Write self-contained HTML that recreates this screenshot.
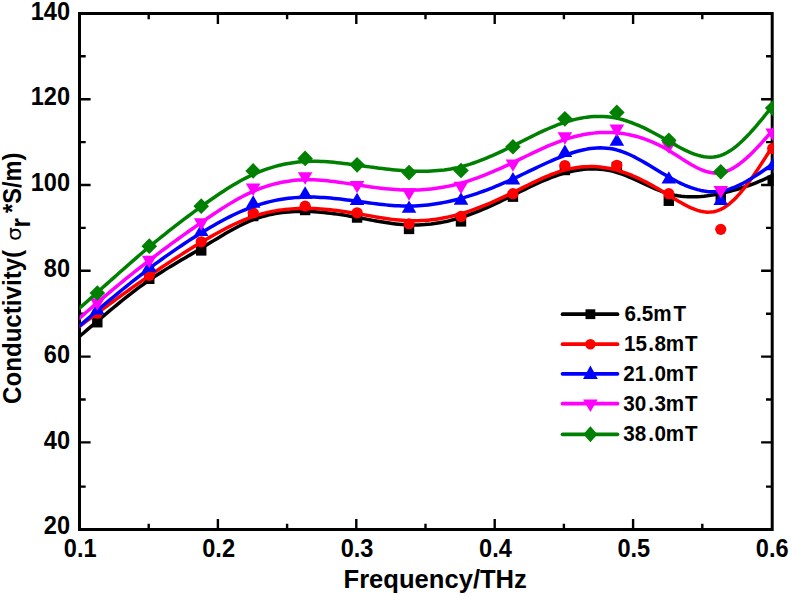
<!DOCTYPE html>
<html><head><meta charset="utf-8"><title>Conductivity vs Frequency</title>
<style>html,body{margin:0;padding:0;background:#fff;overflow:hidden}svg{display:block}</style></head>
<body>
<svg width="792" height="596" viewBox="0 0 792 596" style="display:block" font-family="'Liberation Sans', sans-serif" font-weight="bold">
<rect width="792" height="596" fill="#fff"/>
<defs><clipPath id="cp"><rect x="79.5" y="13.5" width="694.2" height="516.0"/></clipPath></defs>
<rect x="79.5" y="13.5" width="692.7" height="516.0" fill="none" stroke="#000" stroke-width="3.0"/>
<path d="M148.70,529.5 v-5.8 M148.70,13.5 v5.8 M217.90,529.5 v-10.4 M217.90,13.5 v10.4 M287.10,529.5 v-5.8 M287.10,13.5 v5.8 M356.30,529.5 v-10.4 M356.30,13.5 v10.4 M425.50,529.5 v-5.8 M425.50,13.5 v5.8 M494.70,529.5 v-10.4 M494.70,13.5 v10.4 M563.90,529.5 v-5.8 M563.90,13.5 v5.8 M633.10,529.5 v-10.4 M633.10,13.5 v10.4 M702.30,529.5 v-5.8 M702.30,13.5 v5.8 M79.5,486.60 h6.2 M772.2,486.60 h-6.2 M79.5,442.40 h11.1 M772.2,442.40 h-11.1 M79.5,399.50 h6.2 M772.2,399.50 h-6.2 M79.5,356.60 h11.1 M772.2,356.60 h-11.1 M79.5,313.70 h6.2 M772.2,313.70 h-6.2 M79.5,270.80 h11.1 M772.2,270.80 h-11.1 M79.5,227.90 h6.2 M772.2,227.90 h-6.2 M79.5,185.00 h11.1 M772.2,185.00 h-11.1 M79.5,142.10 h6.2 M772.2,142.10 h-6.2 M79.5,99.20 h11.1 M772.2,99.20 h-11.1 M79.5,56.30 h6.2 M772.2,56.30 h-6.2" stroke="#000" stroke-width="2.4" fill="none"/>
<g clip-path="url(#cp)">
<path d="M67.59,346.67 L70.84,343.88 L74.09,341.08 L77.34,338.29 L80.58,335.50 L83.83,332.72 L87.08,329.94 L90.32,327.16 L93.57,324.39 L96.82,321.63 L100.06,318.87 L103.31,316.12 L106.56,313.39 L109.81,310.67 L113.05,307.97 L116.30,305.29 L119.55,302.63 L122.79,300.01 L126.04,297.42 L129.29,294.86 L132.53,292.34 L135.78,289.87 L139.03,287.44 L142.28,285.06 L145.52,282.73 L148.77,280.46 L152.02,278.24 L155.26,276.08 L158.51,273.97 L161.76,271.90 L165.01,269.87 L168.25,267.87 L171.50,265.90 L174.75,263.95 L177.99,262.02 L181.24,260.10 L184.49,258.19 L187.73,256.28 L190.98,254.37 L194.23,252.45 L197.48,250.52 L200.72,248.57 L203.97,246.59 L207.22,244.61 L210.46,242.61 L213.71,240.62 L216.96,238.64 L220.20,236.67 L223.45,234.74 L226.70,232.84 L229.95,230.98 L233.19,229.17 L236.44,227.43 L239.69,225.75 L242.93,224.15 L246.18,222.64 L249.43,221.22 L252.67,219.90 L255.92,218.69 L259.17,217.59 L262.42,216.59 L265.66,215.70 L268.91,214.89 L272.16,214.19 L275.40,213.57 L278.65,213.03 L281.90,212.58 L285.15,212.21 L288.39,211.91 L291.64,211.68 L294.89,211.52 L298.13,211.42 L301.38,211.39 L304.63,211.41 L307.87,211.48 L311.12,211.60 L314.37,211.78 L317.62,211.99 L320.86,212.25 L324.11,212.56 L327.36,212.90 L330.60,213.28 L333.85,213.69 L337.10,214.13 L340.34,214.60 L343.59,215.10 L346.84,215.62 L350.09,216.17 L353.33,216.74 L356.58,217.32 L359.83,217.92 L363.07,218.53 L366.32,219.14 L369.57,219.75 L372.82,220.35 L376.06,220.94 L379.31,221.51 L382.56,222.06 L385.80,222.58 L389.05,223.06 L392.30,223.50 L395.54,223.90 L398.79,224.25 L402.04,224.53 L405.29,224.76 L408.53,224.92 L411.78,225.00 L415.03,225.01 L418.27,224.95 L421.52,224.81 L424.77,224.61 L428.01,224.33 L431.26,223.98 L434.51,223.55 L437.76,223.06 L441.00,222.50 L444.25,221.87 L447.50,221.17 L450.74,220.40 L453.99,219.56 L457.24,218.65 L460.49,217.68 L463.73,216.64 L466.98,215.53 L470.23,214.37 L473.47,213.15 L476.72,211.88 L479.97,210.56 L483.21,209.19 L486.46,207.78 L489.71,206.34 L492.96,204.86 L496.20,203.35 L499.45,201.82 L502.70,200.26 L505.94,198.69 L509.19,197.10 L512.44,195.50 L515.68,193.89 L518.93,192.28 L522.18,190.67 L525.43,189.08 L528.67,187.50 L531.92,185.95 L535.17,184.43 L538.41,182.94 L541.66,181.50 L544.91,180.10 L548.15,178.76 L551.40,177.48 L554.65,176.27 L557.90,175.13 L561.14,174.07 L564.39,173.10 L567.64,172.22 L570.88,171.44 L574.13,170.75 L577.38,170.17 L580.63,169.69 L583.87,169.32 L587.12,169.06 L590.37,168.91 L593.61,168.89 L596.86,168.98 L600.11,169.20 L603.35,169.55 L606.60,170.03 L609.85,170.64 L613.10,171.39 L616.34,172.28 L619.59,173.31 L622.84,174.46 L626.08,175.72 L629.33,177.08 L632.58,178.50 L635.82,179.97 L639.07,181.48 L642.32,183.01 L645.57,184.53 L648.81,186.03 L652.06,187.49 L655.31,188.90 L658.55,190.23 L661.80,191.47 L665.05,192.60 L668.30,193.60 L671.54,194.45 L674.79,195.16 L678.04,195.74 L681.28,196.19 L684.53,196.51 L687.78,196.71 L691.02,196.81 L694.27,196.79 L697.52,196.68 L700.77,196.47 L704.01,196.17 L707.26,195.79 L710.51,195.33 L713.75,194.81 L717.00,194.21 L720.25,193.56 L723.49,192.86 L726.74,192.10 L729.99,191.29 L733.24,190.42 L736.48,189.50 L739.73,188.52 L742.98,187.49 L746.22,186.40 L749.47,185.25 L752.72,184.05 L755.96,182.79 L759.21,181.47 L762.46,180.10 L765.71,178.66 L768.95,177.17 L772.20,175.61 L775.45,173.99 L778.69,172.32 L781.94,170.60 L785.19,168.82" fill="none" stroke="#000000" stroke-width="3.5" stroke-linejoin="round"/>
<rect x="92.12" y="317.04" width="10.4" height="10.4" fill="#000000"/>
<rect x="144.07" y="273.61" width="10.4" height="10.4" fill="#000000"/>
<rect x="196.02" y="245.23" width="10.4" height="10.4" fill="#000000"/>
<rect x="247.97" y="210.83" width="10.4" height="10.4" fill="#000000"/>
<rect x="299.93" y="204.81" width="10.4" height="10.4" fill="#000000"/>
<rect x="351.88" y="212.33" width="10.4" height="10.4" fill="#000000"/>
<rect x="403.83" y="223.73" width="10.4" height="10.4" fill="#000000"/>
<rect x="455.79" y="216.20" width="10.4" height="10.4" fill="#000000"/>
<rect x="507.74" y="191.48" width="10.4" height="10.4" fill="#000000"/>
<rect x="559.69" y="164.82" width="10.4" height="10.4" fill="#000000"/>
<rect x="611.64" y="161.81" width="10.4" height="10.4" fill="#000000"/>
<rect x="663.60" y="195.56" width="10.4" height="10.4" fill="#000000"/>
<rect x="715.55" y="191.48" width="10.4" height="10.4" fill="#000000"/>
<rect x="767.50" y="175.57" width="10.4" height="10.4" fill="#000000"/>
<path d="M67.59,335.25 L70.84,332.81 L74.09,330.38 L77.34,327.94 L80.58,325.52 L83.83,323.09 L87.08,320.67 L90.32,318.25 L93.57,315.84 L96.82,313.43 L100.06,311.03 L103.31,308.63 L106.56,306.24 L109.81,303.85 L113.05,301.48 L116.30,299.11 L119.55,296.75 L122.79,294.41 L126.04,292.07 L129.29,289.75 L132.53,287.43 L135.78,285.14 L139.03,282.85 L142.28,280.58 L145.52,278.33 L148.77,276.09 L152.02,273.86 L155.26,271.66 L158.51,269.47 L161.76,267.30 L165.01,265.15 L168.25,263.01 L171.50,260.89 L174.75,258.79 L177.99,256.70 L181.24,254.64 L184.49,252.59 L187.73,250.56 L190.98,248.55 L194.23,246.55 L197.48,244.58 L200.72,242.62 L203.97,240.68 L207.22,238.76 L210.46,236.88 L213.71,235.02 L216.96,233.19 L220.20,231.41 L223.45,229.67 L226.70,227.98 L229.95,226.34 L233.19,224.76 L236.44,223.23 L239.69,221.78 L242.93,220.39 L246.18,219.07 L249.43,217.83 L252.67,216.68 L255.92,215.60 L259.17,214.61 L262.42,213.71 L265.66,212.88 L268.91,212.13 L272.16,211.45 L275.40,210.85 L278.65,210.32 L281.90,209.86 L285.15,209.46 L288.39,209.14 L291.64,208.87 L294.89,208.66 L298.13,208.52 L301.38,208.43 L304.63,208.40 L307.87,208.42 L311.12,208.49 L314.37,208.61 L317.62,208.77 L320.86,208.98 L324.11,209.23 L327.36,209.52 L330.60,209.84 L333.85,210.21 L337.10,210.60 L340.34,211.02 L343.59,211.48 L346.84,211.95 L350.09,212.46 L353.33,212.98 L356.58,213.52 L359.83,214.08 L363.07,214.65 L366.32,215.23 L369.57,215.80 L372.82,216.37 L376.06,216.93 L379.31,217.47 L382.56,218.00 L385.80,218.49 L389.05,218.95 L392.30,219.38 L395.54,219.75 L398.79,220.09 L402.04,220.36 L405.29,220.58 L408.53,220.72 L411.78,220.80 L415.03,220.81 L418.27,220.75 L421.52,220.62 L424.77,220.42 L428.01,220.15 L431.26,219.81 L434.51,219.41 L437.76,218.94 L441.00,218.41 L444.25,217.81 L447.50,217.15 L450.74,216.43 L453.99,215.64 L457.24,214.79 L460.49,213.88 L463.73,212.91 L466.98,211.88 L470.23,210.80 L473.47,209.66 L476.72,208.47 L479.97,207.24 L483.21,205.96 L486.46,204.63 L489.71,203.27 L492.96,201.86 L496.20,200.42 L499.45,198.95 L502.70,197.45 L505.94,195.91 L509.19,194.36 L512.44,192.77 L515.68,191.17 L518.93,189.56 L522.18,187.94 L525.43,186.32 L528.67,184.72 L531.92,183.14 L535.17,181.58 L538.41,180.06 L541.66,178.58 L544.91,177.16 L548.15,175.79 L551.40,174.50 L554.65,173.28 L557.90,172.14 L561.14,171.10 L564.39,170.16 L567.64,169.33 L570.88,168.61 L574.13,167.99 L577.38,167.49 L580.63,167.10 L583.87,166.81 L587.12,166.64 L590.37,166.58 L593.61,166.62 L596.86,166.78 L600.11,167.05 L603.35,167.43 L606.60,167.92 L609.85,168.52 L613.10,169.23 L616.34,170.06 L619.59,170.99 L622.84,172.03 L626.08,173.18 L629.33,174.41 L632.58,175.74 L635.82,177.16 L639.07,178.66 L642.32,180.23 L645.57,181.87 L648.81,183.58 L652.06,185.34 L655.31,187.16 L658.55,189.03 L661.80,190.95 L665.05,192.90 L668.30,194.89 L671.54,196.90 L674.79,198.91 L678.04,200.89 L681.28,202.80 L684.53,204.62 L687.78,206.31 L691.02,207.85 L694.27,209.20 L697.52,210.34 L700.77,211.23 L704.01,211.84 L707.26,212.14 L710.51,212.11 L713.75,211.70 L717.00,210.89 L720.25,209.65 L723.49,207.96 L726.74,205.84 L729.99,203.31 L733.24,200.41 L736.48,197.16 L739.73,193.59 L742.98,189.73 L746.22,185.62 L749.47,181.27 L752.72,176.72 L755.96,172.00 L759.21,167.13 L762.46,162.15 L765.71,157.08 L768.95,151.96 L772.20,146.80 L775.45,141.64 L778.69,136.48 L781.94,131.32 L785.19,126.16" fill="none" stroke="#ff0000" stroke-width="3.5" stroke-linejoin="round"/>
<circle cx="97.32" cy="313.21" r="5.6" fill="#ff0000"/>
<circle cx="149.27" cy="275.37" r="5.6" fill="#ff0000"/>
<circle cx="201.22" cy="241.83" r="5.6" fill="#ff0000"/>
<circle cx="253.17" cy="213.02" r="5.6" fill="#ff0000"/>
<circle cx="305.13" cy="206.14" r="5.6" fill="#ff0000"/>
<circle cx="357.08" cy="212.81" r="5.6" fill="#ff0000"/>
<circle cx="409.03" cy="223.77" r="5.6" fill="#ff0000"/>
<circle cx="460.99" cy="216.46" r="5.6" fill="#ff0000"/>
<circle cx="512.94" cy="193.67" r="5.6" fill="#ff0000"/>
<circle cx="564.89" cy="165.50" r="5.6" fill="#ff0000"/>
<circle cx="616.84" cy="165.29" r="5.6" fill="#ff0000"/>
<circle cx="668.80" cy="193.67" r="5.6" fill="#ff0000"/>
<circle cx="720.75" cy="229.36" r="5.6" fill="#ff0000"/>
<circle cx="772.70" cy="148.52" r="5.6" fill="#ff0000"/>
<path d="M67.59,336.32 L70.84,333.47 L74.09,330.62 L77.34,327.78 L80.58,324.95 L83.83,322.13 L87.08,319.32 L90.32,316.52 L93.57,313.73 L96.82,310.95 L100.06,308.18 L103.31,305.42 L106.56,302.69 L109.81,299.96 L113.05,297.25 L116.30,294.56 L119.55,291.89 L122.79,289.24 L126.04,286.60 L129.29,283.99 L132.53,281.40 L135.78,278.83 L139.03,276.29 L142.28,273.77 L145.52,271.28 L148.77,268.81 L152.02,266.37 L155.26,263.96 L158.51,261.58 L161.76,259.23 L165.01,256.90 L168.25,254.60 L171.50,252.33 L174.75,250.09 L177.99,247.87 L181.24,245.68 L184.49,243.53 L187.73,241.39 L190.98,239.29 L194.23,237.22 L197.48,235.17 L200.72,233.16 L203.97,231.17 L207.22,229.21 L210.46,227.29 L213.71,225.41 L216.96,223.57 L220.20,221.77 L223.45,220.01 L226.70,218.31 L229.95,216.65 L233.19,215.05 L236.44,213.51 L239.69,212.03 L242.93,210.62 L246.18,209.27 L249.43,207.99 L252.67,206.79 L255.92,205.65 L259.17,204.60 L262.42,203.61 L265.66,202.70 L268.91,201.86 L272.16,201.10 L275.40,200.40 L278.65,199.77 L281.90,199.21 L285.15,198.72 L288.39,198.29 L291.64,197.93 L294.89,197.63 L298.13,197.39 L301.38,197.22 L304.63,197.11 L307.87,197.06 L311.12,197.07 L314.37,197.12 L317.62,197.23 L320.86,197.39 L324.11,197.59 L327.36,197.83 L330.60,198.10 L333.85,198.41 L337.10,198.75 L340.34,199.11 L343.59,199.50 L346.84,199.90 L350.09,200.32 L353.33,200.75 L356.58,201.19 L359.83,201.64 L363.07,202.09 L366.32,202.53 L369.57,202.96 L372.82,203.39 L376.06,203.80 L379.31,204.18 L382.56,204.55 L385.80,204.88 L389.05,205.18 L392.30,205.45 L395.54,205.67 L398.79,205.85 L402.04,205.98 L405.29,206.05 L408.53,206.07 L411.78,206.02 L415.03,205.92 L418.27,205.75 L421.52,205.53 L424.77,205.24 L428.01,204.90 L431.26,204.51 L434.51,204.05 L437.76,203.55 L441.00,202.98 L444.25,202.37 L447.50,201.70 L450.74,200.99 L453.99,200.22 L457.24,199.41 L460.49,198.54 L463.73,197.63 L466.98,196.68 L470.23,195.68 L473.47,194.63 L476.72,193.55 L479.97,192.42 L483.21,191.25 L486.46,190.04 L489.71,188.80 L492.96,187.52 L496.20,186.20 L499.45,184.85 L502.70,183.46 L505.94,182.05 L509.19,180.60 L512.44,179.12 L515.68,177.62 L518.93,176.09 L522.18,174.54 L525.43,172.99 L528.67,171.43 L531.92,169.87 L535.17,168.31 L538.41,166.77 L541.66,165.24 L544.91,163.74 L548.15,162.27 L551.40,160.83 L554.65,159.43 L557.90,158.08 L561.14,156.78 L564.39,155.54 L567.64,154.37 L570.88,153.26 L574.13,152.24 L577.38,151.30 L580.63,150.46 L583.87,149.72 L587.12,149.10 L590.37,148.59 L593.61,148.21 L596.86,147.97 L600.11,147.87 L603.35,147.92 L606.60,148.14 L609.85,148.52 L613.10,149.07 L616.34,149.81 L619.59,150.74 L622.84,151.84 L626.08,153.10 L629.33,154.50 L632.58,156.04 L635.82,157.68 L639.07,159.42 L642.32,161.24 L645.57,163.12 L648.81,165.06 L652.06,167.02 L655.31,169.00 L658.55,170.98 L661.80,172.94 L665.05,174.87 L668.30,176.76 L671.54,178.58 L674.79,180.32 L678.04,181.99 L681.28,183.55 L684.53,185.02 L687.78,186.37 L691.02,187.59 L694.27,188.68 L697.52,189.62 L700.77,190.41 L704.01,191.03 L707.26,191.48 L710.51,191.74 L713.75,191.81 L717.00,191.66 L720.25,191.31 L723.49,190.72 L726.74,189.93 L729.99,188.94 L733.24,187.76 L736.48,186.41 L739.73,184.91 L742.98,183.27 L746.22,181.50 L749.47,179.61 L752.72,177.63 L755.96,175.56 L759.21,173.42 L762.46,171.22 L765.71,168.98 L768.95,166.71 L772.20,164.43 L775.45,162.15 L778.69,159.86 L781.94,157.58 L785.19,155.29" fill="none" stroke="#0000ff" stroke-width="3.5" stroke-linejoin="round"/>
<polygon points="97.32,302.15 104.62,314.55 90.02,314.55" fill="#0000ff"/>
<polygon points="149.27,259.36 156.57,271.76 141.97,271.76" fill="#0000ff"/>
<polygon points="201.22,223.67 208.52,236.07 193.92,236.07" fill="#0000ff"/>
<polygon points="253.17,195.29 260.47,207.69 245.87,207.69" fill="#0000ff"/>
<polygon points="305.13,186.26 312.43,198.66 297.83,198.66" fill="#0000ff"/>
<polygon points="357.08,192.71 364.38,205.11 349.78,205.11" fill="#0000ff"/>
<polygon points="409.03,200.45 416.33,212.85 401.73,212.85" fill="#0000ff"/>
<polygon points="460.99,192.28 468.29,204.68 453.69,204.68" fill="#0000ff"/>
<polygon points="512.94,172.07 520.24,184.47 505.64,184.47" fill="#0000ff"/>
<polygon points="564.89,144.55 572.19,156.95 557.59,156.95" fill="#0000ff"/>
<polygon points="616.84,133.37 624.14,145.77 609.54,145.77" fill="#0000ff"/>
<polygon points="668.80,171.21 676.10,183.61 661.50,183.61" fill="#0000ff"/>
<polygon points="720.75,192.71 728.05,205.11 713.45,205.11" fill="#0000ff"/>
<polygon points="772.70,157.88 780.00,170.28 765.40,170.28" fill="#0000ff"/>
<path d="M67.59,328.67 L70.84,325.79 L74.09,322.92 L77.34,320.06 L80.58,317.20 L83.83,314.36 L87.08,311.53 L90.32,308.71 L93.57,305.91 L96.82,303.12 L100.06,300.34 L103.31,297.58 L106.56,294.84 L109.81,292.11 L113.05,289.40 L116.30,286.70 L119.55,284.02 L122.79,281.36 L126.04,278.72 L129.29,276.10 L132.53,273.49 L135.78,270.91 L139.03,268.34 L142.28,265.79 L145.52,263.26 L148.77,260.75 L152.02,258.26 L155.26,255.79 L158.51,253.34 L161.76,250.91 L165.01,248.49 L168.25,246.09 L171.50,243.71 L174.75,241.35 L177.99,239.00 L181.24,236.66 L184.49,234.34 L187.73,232.03 L190.98,229.73 L194.23,227.45 L197.48,225.17 L200.72,222.91 L203.97,220.66 L207.22,218.42 L210.46,216.21 L213.71,214.02 L216.96,211.86 L220.20,209.73 L223.45,207.65 L226.70,205.61 L229.95,203.63 L233.19,201.70 L236.44,199.83 L239.69,198.03 L242.93,196.30 L246.18,194.65 L249.43,193.07 L252.67,191.59 L255.92,190.20 L259.17,188.90 L262.42,187.69 L265.66,186.57 L268.91,185.54 L272.16,184.59 L275.40,183.74 L278.65,182.96 L281.90,182.28 L285.15,181.68 L288.39,181.16 L291.64,180.72 L294.89,180.36 L298.13,180.08 L301.38,179.89 L304.63,179.77 L307.87,179.72 L311.12,179.75 L314.37,179.85 L317.62,180.01 L320.86,180.22 L324.11,180.49 L327.36,180.80 L330.60,181.16 L333.85,181.55 L337.10,181.97 L340.34,182.41 L343.59,182.88 L346.84,183.36 L350.09,183.86 L353.33,184.36 L356.58,184.86 L359.83,185.35 L363.07,185.84 L366.32,186.31 L369.57,186.77 L372.82,187.21 L376.06,187.64 L379.31,188.04 L382.56,188.41 L385.80,188.76 L389.05,189.07 L392.30,189.34 L395.54,189.58 L398.79,189.78 L402.04,189.93 L405.29,190.03 L408.53,190.09 L411.78,190.09 L415.03,190.03 L418.27,189.92 L421.52,189.76 L424.77,189.54 L428.01,189.26 L431.26,188.93 L434.51,188.54 L437.76,188.09 L441.00,187.58 L444.25,187.01 L447.50,186.39 L450.74,185.70 L453.99,184.96 L457.24,184.15 L460.49,183.28 L463.73,182.35 L466.98,181.36 L470.23,180.31 L473.47,179.21 L476.72,178.06 L479.97,176.86 L483.21,175.61 L486.46,174.32 L489.71,172.99 L492.96,171.62 L496.20,170.22 L499.45,168.79 L502.70,167.32 L505.94,165.83 L509.19,164.32 L512.44,162.78 L515.68,161.23 L518.93,159.66 L522.18,158.09 L525.43,156.52 L528.67,154.95 L531.92,153.39 L535.17,151.85 L538.41,150.33 L541.66,148.84 L544.91,147.38 L548.15,145.97 L551.40,144.60 L554.65,143.28 L557.90,142.03 L561.14,140.83 L564.39,139.70 L567.64,138.65 L570.88,137.68 L574.13,136.79 L577.38,135.97 L580.63,135.23 L583.87,134.58 L587.12,134.01 L590.37,133.52 L593.61,133.12 L596.86,132.81 L600.11,132.58 L603.35,132.45 L606.60,132.40 L609.85,132.45 L613.10,132.59 L616.34,132.82 L619.59,133.16 L622.84,133.58 L626.08,134.11 L629.33,134.73 L632.58,135.45 L635.82,136.27 L639.07,137.19 L642.32,138.22 L645.57,139.34 L648.81,140.57 L652.06,141.91 L655.31,143.35 L658.55,144.89 L661.80,146.54 L665.05,148.30 L668.30,150.17 L671.54,152.14 L674.79,154.19 L678.04,156.28 L681.28,158.38 L684.53,160.47 L687.78,162.50 L691.02,164.45 L694.27,166.28 L697.52,167.97 L700.77,169.47 L704.01,170.76 L707.26,171.81 L710.51,172.57 L713.75,173.03 L717.00,173.15 L720.25,172.89 L723.49,172.23 L726.74,171.19 L729.99,169.80 L733.24,168.08 L736.48,166.05 L739.73,163.74 L742.98,161.18 L746.22,158.39 L749.47,155.40 L752.72,152.23 L755.96,148.90 L759.21,145.45 L762.46,141.90 L765.71,138.27 L768.95,134.59 L772.20,130.89 L775.45,127.18 L778.69,123.47 L781.94,119.76 L785.19,116.05" fill="none" stroke="#ff00ff" stroke-width="3.5" stroke-linejoin="round"/>
<polygon points="97.32,310.73 104.62,298.33 90.02,298.33" fill="#ff00ff"/>
<polygon points="149.27,268.16 156.57,255.76 141.97,255.76" fill="#ff00ff"/>
<polygon points="201.22,230.75 208.52,218.35 193.92,218.35" fill="#ff00ff"/>
<polygon points="253.17,195.92 260.47,183.52 245.87,183.52" fill="#ff00ff"/>
<polygon points="305.13,184.74 312.43,172.34 297.83,172.34" fill="#ff00ff"/>
<polygon points="357.08,193.34 364.38,180.94 349.78,180.94" fill="#ff00ff"/>
<polygon points="409.03,200.65 416.33,188.25 401.73,188.25" fill="#ff00ff"/>
<polygon points="460.99,194.20 468.29,181.80 453.69,181.80" fill="#ff00ff"/>
<polygon points="512.94,171.84 520.24,159.44 505.64,159.44" fill="#ff00ff"/>
<polygon points="564.89,144.75 572.19,132.35 557.59,132.35" fill="#ff00ff"/>
<polygon points="616.84,137.01 624.14,124.61 609.54,124.61" fill="#ff00ff"/>
<polygon points="668.80,153.78 676.10,141.38 661.50,141.38" fill="#ff00ff"/>
<polygon points="720.75,198.50 728.05,186.10 713.45,186.10" fill="#ff00ff"/>
<polygon points="772.70,140.88 780.00,128.48 765.40,128.48" fill="#ff00ff"/>
<path d="M67.59,318.82 L70.84,315.95 L74.09,313.07 L77.34,310.19 L80.58,307.30 L83.83,304.42 L87.08,301.53 L90.32,298.64 L93.57,295.74 L96.82,292.84 L100.06,289.94 L103.31,287.04 L106.56,284.14 L109.81,281.23 L113.05,278.34 L116.30,275.45 L119.55,272.56 L122.79,269.69 L126.04,266.83 L129.29,263.98 L132.53,261.14 L135.78,258.33 L139.03,255.53 L142.28,252.76 L145.52,250.00 L148.77,247.28 L152.02,244.58 L155.26,241.90 L158.51,239.25 L161.76,236.63 L165.01,234.03 L168.25,231.46 L171.50,228.90 L174.75,226.38 L177.99,223.87 L181.24,221.39 L184.49,218.93 L187.73,216.49 L190.98,214.07 L194.23,211.67 L197.48,209.29 L200.72,206.93 L203.97,204.59 L207.22,202.27 L210.46,199.98 L213.71,197.72 L216.96,195.49 L220.20,193.31 L223.45,191.17 L226.70,189.08 L229.95,187.05 L233.19,185.07 L236.44,183.16 L239.69,181.31 L242.93,179.53 L246.18,177.83 L249.43,176.21 L252.67,174.68 L255.92,173.23 L259.17,171.87 L262.42,170.60 L265.66,169.41 L268.91,168.31 L272.16,167.30 L275.40,166.36 L278.65,165.51 L281.90,164.74 L285.15,164.06 L288.39,163.45 L291.64,162.92 L294.89,162.46 L298.13,162.09 L301.38,161.79 L304.63,161.56 L307.87,161.41 L311.12,161.33 L314.37,161.31 L317.62,161.36 L320.86,161.46 L324.11,161.61 L327.36,161.81 L330.60,162.06 L333.85,162.34 L337.10,162.66 L340.34,163.01 L343.59,163.39 L346.84,163.79 L350.09,164.20 L353.33,164.63 L356.58,165.07 L359.83,165.52 L363.07,165.97 L366.32,166.42 L369.57,166.86 L372.82,167.30 L376.06,167.73 L379.31,168.15 L382.56,168.55 L385.80,168.94 L389.05,169.31 L392.30,169.65 L395.54,169.97 L398.79,170.27 L402.04,170.53 L405.29,170.76 L408.53,170.95 L411.78,171.11 L415.03,171.22 L418.27,171.29 L421.52,171.31 L424.77,171.28 L428.01,171.20 L431.26,171.07 L434.51,170.87 L437.76,170.61 L441.00,170.29 L444.25,169.91 L447.50,169.45 L450.74,168.92 L453.99,168.31 L457.24,167.63 L460.49,166.87 L463.73,166.02 L466.98,165.09 L470.23,164.09 L473.47,163.01 L476.72,161.87 L479.97,160.67 L483.21,159.41 L486.46,158.09 L489.71,156.72 L492.96,155.30 L496.20,153.85 L499.45,152.35 L502.70,150.83 L505.94,149.27 L509.19,147.69 L512.44,146.08 L515.68,144.46 L518.93,142.83 L522.18,141.20 L525.43,139.57 L528.67,137.94 L531.92,136.33 L535.17,134.74 L538.41,133.18 L541.66,131.66 L544.91,130.17 L548.15,128.73 L551.40,127.34 L554.65,126.01 L557.90,124.74 L561.14,123.55 L564.39,122.43 L567.64,121.40 L570.88,120.46 L574.13,119.60 L577.38,118.84 L580.63,118.17 L583.87,117.61 L587.12,117.15 L590.37,116.79 L593.61,116.54 L596.86,116.41 L600.11,116.39 L603.35,116.49 L606.60,116.71 L609.85,117.05 L613.10,117.53 L616.34,118.13 L619.59,118.87 L622.84,119.74 L626.08,120.72 L629.33,121.82 L632.58,123.01 L635.82,124.31 L639.07,125.70 L642.32,127.16 L645.57,128.70 L648.81,130.31 L652.06,131.98 L655.31,133.69 L658.55,135.45 L661.80,137.25 L665.05,139.08 L668.30,140.92 L671.54,142.78 L674.79,144.63 L678.04,146.44 L681.28,148.19 L684.53,149.85 L687.78,151.41 L691.02,152.83 L694.27,154.10 L697.52,155.18 L700.77,156.06 L704.01,156.71 L707.26,157.10 L710.51,157.21 L713.75,157.01 L717.00,156.49 L720.25,155.62 L723.49,154.37 L726.74,152.77 L729.99,150.84 L733.24,148.60 L736.48,146.08 L739.73,143.29 L742.98,140.28 L746.22,137.04 L749.47,133.62 L752.72,130.04 L755.96,126.31 L759.21,122.47 L762.46,118.53 L765.71,114.52 L768.95,110.46 L772.20,106.38 L775.45,102.29 L778.69,98.21 L781.94,94.12 L785.19,90.04" fill="none" stroke="#008000" stroke-width="3.5" stroke-linejoin="round"/>
<polygon points="97.32,285.20 105.12,293.00 97.32,300.80 89.52,293.00" fill="#008000"/>
<polygon points="149.27,238.33 157.07,246.13 149.27,253.93 141.47,246.13" fill="#008000"/>
<polygon points="201.22,198.34 209.02,206.14 201.22,213.94 193.42,206.14" fill="#008000"/>
<polygon points="253.17,163.08 260.97,170.88 253.17,178.68 245.37,170.88" fill="#008000"/>
<polygon points="305.13,150.61 312.93,158.41 305.13,166.21 297.33,158.41" fill="#008000"/>
<polygon points="357.08,157.06 364.88,164.86 357.08,172.66 349.28,164.86" fill="#008000"/>
<polygon points="409.03,164.80 416.83,172.60 409.03,180.40 401.23,172.60" fill="#008000"/>
<polygon points="460.99,162.65 468.79,170.45 460.99,178.25 453.19,170.45" fill="#008000"/>
<polygon points="512.94,139.00 520.74,146.80 512.94,154.60 505.14,146.80" fill="#008000"/>
<polygon points="564.89,111.05 572.69,118.85 564.89,126.65 557.09,118.85" fill="#008000"/>
<polygon points="616.84,104.60 624.64,112.40 616.84,120.20 609.04,112.40" fill="#008000"/>
<polygon points="668.80,132.55 676.60,140.35 668.80,148.15 661.00,140.35" fill="#008000"/>
<polygon points="720.75,163.94 728.55,171.74 720.75,179.54 712.95,171.74" fill="#008000"/>
<polygon points="772.70,100.30 780.50,108.10 772.70,115.90 764.90,108.10" fill="#008000"/>
</g>
<text transform="translate(80.20,557.40) scale(0.935,1)" font-size="25.2" text-anchor="middle">0.1</text>
<text transform="translate(218.60,557.40) scale(0.935,1)" font-size="25.2" text-anchor="middle">0.2</text>
<text transform="translate(357.00,557.40) scale(0.935,1)" font-size="25.2" text-anchor="middle">0.3</text>
<text transform="translate(495.40,557.40) scale(0.935,1)" font-size="25.2" text-anchor="middle">0.4</text>
<text transform="translate(633.80,557.40) scale(0.935,1)" font-size="25.2" text-anchor="middle">0.5</text>
<text transform="translate(772.20,557.40) scale(0.935,1)" font-size="25.2" text-anchor="middle">0.6</text>
<text transform="translate(70.00,534.40) scale(0.935,1)" font-size="25.2" text-anchor="end">20</text>
<text transform="translate(70.00,448.60) scale(0.935,1)" font-size="25.2" text-anchor="end">40</text>
<text transform="translate(70.00,362.80) scale(0.935,1)" font-size="25.2" text-anchor="end">60</text>
<text transform="translate(70.00,277.00) scale(0.935,1)" font-size="25.2" text-anchor="end">80</text>
<text transform="translate(70.00,191.20) scale(0.935,1)" font-size="25.2" text-anchor="end">100</text>
<text transform="translate(70.00,105.40) scale(0.935,1)" font-size="25.2" text-anchor="end">120</text>
<text transform="translate(70.00,19.60) scale(0.935,1)" font-size="25.2" text-anchor="end">140</text>
<text transform="translate(343.50,588.40) scale(0.992,1)" font-size="25.8" text-anchor="start">Frequency/THz</text>
<g transform="translate(21.3,404.0) rotate(-90)">
<text transform="translate(0.00,0.00) scale(0.95,1)" font-size="25.4" text-anchor="start">Conductivity(</text>
<text transform="translate(163.00,0.00) scale(1.1,1)" font-size="20" text-anchor="start" font-family="'DejaVu Sans', sans-serif" font-weight="normal">σ</text>
<text transform="translate(176.60,8.80) scale(0.88,1)" font-size="27" text-anchor="start">r</text>
<text transform="translate(191.00,0.00) scale(0.93,1)" font-size="25.4" text-anchor="start">*S/m)</text>
</g>
<path d="M562.5,314.2 H617.5" stroke="#000000" stroke-width="3.7" stroke-linecap="round"/>
<rect x="585.50" y="309.30" width="9.8" height="9.8" fill="#000000"/>
<text transform="translate(624.50,321.10) scale(0.925,1)" font-size="22.3" text-anchor="start" dx="0 0 0 0 2.1">6.5mT</text>
<path d="M562.5,344.2 H617.5" stroke="#ff0000" stroke-width="3.7" stroke-linecap="round"/>
<circle cx="590.40" cy="344.20" r="5.3" fill="#ff0000"/>
<text transform="translate(624.00,351.30) scale(0.925,1)" font-size="22.3" text-anchor="start" dx="0 0 1.41 0.65 -0.43 1.02">15.8mT</text>
<path d="M562.5,373.8 H617.5" stroke="#0000ff" stroke-width="3.7" stroke-linecap="round"/>
<polygon points="590.40,365.50 597.80,379.10 583.00,379.10" fill="#0000ff"/>
<text transform="translate(623.20,380.90) scale(0.925,1)" font-size="22.3" text-anchor="start" dx="0 0 2.27 0.65 -0.43 1.02">21.0mT</text>
<path d="M562.5,403.7 H617.5" stroke="#ff00ff" stroke-width="3.7" stroke-linecap="round"/>
<polygon points="590.40,411.97 597.70,399.57 583.10,399.57" fill="#ff00ff"/>
<text transform="translate(623.20,410.80) scale(0.925,1)" font-size="22.3" text-anchor="start" dx="0 0 2.27 0.65 -0.43 1.02">30.3mT</text>
<path d="M562.5,434.3 H617.5" stroke="#008000" stroke-width="3.7" stroke-linecap="round"/>
<polygon points="590.40,426.30 597.40,434.30 590.40,442.30 583.40,434.30" fill="#008000"/>
<text transform="translate(623.20,441.40) scale(0.925,1)" font-size="22.3" text-anchor="start" dx="0 0 2.27 0.65 -0.43 1.02">38.0mT</text>
</svg>
</body></html>
